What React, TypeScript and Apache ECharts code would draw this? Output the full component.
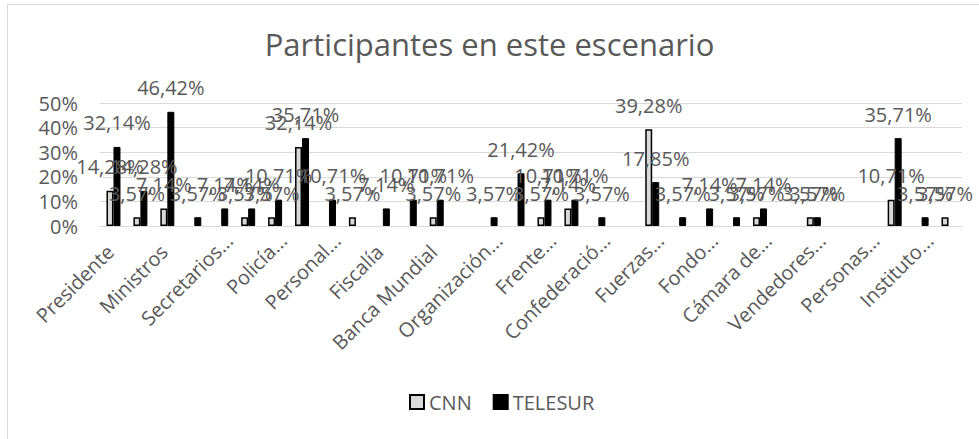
import React, { useEffect, useRef } from "react";
import * as echarts from "echarts";

const categories: string[] = [
  "Presidente", "Vicepresidente",
  "Ministros", "Viceministros",
  "Secretarios...", "Gobernadores...",
  "Policía...", "Militares...",
  "Personal...", "Diputados...",
  "Fiscalía", "Jueces...",
  "Banca Mundial", "Empresarios...",
  "Organización...", "Sindicatos...",
  "Frente...", "Estudiantes...",
  "Confederació...", "Partidos...",
  "Fuerzas...", "Oposición...",
  "Fondo...", "Iglesia...",
  "Cámara de...", "Médicos...",
  "Vendedores...", "Periodistas...",
  "Personas...", "Ciudadanos...",
  "Instituto...", "Organismos...",
];

const cnn: (number | null)[] = [
  14.28, 3.57, 7.14, null, null, 3.57, 3.57, 32.14,
  null, 3.57, null, null, 3.57, null, null, null,
  3.57, 7.14, null, null, 39.28, null, null, null,
  3.57, null, 3.57, null, null, 10.71, null, 3.57,
];

const telesur: (number | null)[] = [
  32.14, 14.28, 46.42, 3.57, 7.14, 7.14, 10.71, 35.71,
  10.71, null, 7.14, 10.71, 10.71, null, 3.57, 21.42,
  10.71, 10.71, 3.57, null, 17.85, 3.57, 7.14, 3.57,
  7.14, null, 3.57, null, null, 35.71, 3.57, null,
];

const yTicks = { min: 0, max: 50, interval: 10 };

const FONT = "'Open Sans', sans-serif";
const TXT = "#595959";

const fmtPct = (v: number) => v.toFixed(2).replace(".", ",") + "%";

export default function App() {
  const ref = useRef<HTMLDivElement>(null);
  useEffect(() => {
    if (!ref.current) return;
    const chart = echarts.init(ref.current, undefined, { renderer: "svg" });
    const labelCfg = {
      show: true,
      position: "top" as const,
      distance: 14,
      color: TXT,
      fontSize: 20,
      fontFamily: FONT,
      formatter: (p: any) => fmtPct(p.value),
    };
    const catFont = { color: TXT, fontSize: 20, fontFamily: FONT };
    chart.setOption({
      animation: false,
      backgroundColor: "#ffffff",
      textStyle: { fontFamily: FONT },
      title: {
        text: "Participantes en este escenario",
        left: "center",
        top: 23,
        textStyle: { color: TXT, fontSize: 31, fontWeight: "normal", fontFamily: FONT },
      },
      graphic: [
        {
          type: "rect",
          silent: true,
          shape: { x: 7.5, y: 4.5, width: 1200, height: 1200 },
          style: { fill: "none", stroke: "#d9d9d9", lineWidth: 1 },
        },
      ],
      legend: {
        bottom: 22,
        left: 404,
        itemWidth: 14,
        itemHeight: 14,
        itemGap: 21,
        textStyle: { color: TXT, fontSize: 20, fontFamily: FONT },
        data: [
          { name: "CNN", icon: "rect" },
          { name: "TELESUR", icon: "rect" },
        ],
      },
      grid: [
        { left: 100, right: 17, top: 103, bottom: 213, containLabel: false },
        { left: 108, right: 9, top: 103, bottom: 213, containLabel: false },
      ],
      xAxis: [
        {
          type: "category",
          gridIndex: 0,
          data: categories,
          axisLine: { lineStyle: { color: "#d9d9d9", width: 1 } },
          axisTick: { show: false },
          axisLabel: { show: false },
        },
        {
          type: "category",
          gridIndex: 1,
          data: categories,
          axisLine: { show: false },
          axisTick: { show: false },
          axisLabel: {
            interval: 1,
            rotate: 45,
            margin: 11,
            ...catFont,
            formatter: (v: string) => (v.endsWith("...") ? `{t|${v}}` : `{f|${v}}`),
            rich: {
              t: { ...catFont },
              f: { ...catFont, padding: [0, 16, 0, 0] },
            },
          },
        },
      ],
      yAxis: [
        {
          type: "value",
          gridIndex: 0,
          min: yTicks.min,
          max: yTicks.max,
          interval: yTicks.interval,
          axisLine: { show: false },
          axisTick: { show: false },
          splitLine: { lineStyle: { color: "#d9d9d9", width: 1 } },
          axisLabel: {
            formatter: "{value}%",
            color: TXT,
            fontSize: 20,
            fontFamily: FONT,
            margin: 22,
          },
        },
        {
          type: "value",
          gridIndex: 1,
          min: yTicks.min,
          max: yTicks.max,
          interval: yTicks.interval,
          show: false,
        },
      ],
      series: [
        {
          name: "CNN",
          type: "bar",
          xAxisIndex: 0,
          yAxisIndex: 0,
          data: cnn,
          barWidth: 7,
          barGap: "0%",
          itemStyle: { color: "#d9d9d9", borderColor: "#000000", borderWidth: 1.5 },
          label: labelCfg,
        },
        {
          name: "TELESUR",
          type: "bar",
          xAxisIndex: 0,
          yAxisIndex: 0,
          data: telesur,
          barWidth: 7,
          barGap: "0%",
          itemStyle: { color: "#000000", borderColor: "#000000", borderWidth: 1 },
          label: labelCfg,
        },
      ],
    });
    return () => chart.dispose();
  }, []);
  return (
    <div
      ref={ref}
      style={{ position: "absolute", left: 0, top: 0, width: 979, height: 439 }}
    />
  );
}
